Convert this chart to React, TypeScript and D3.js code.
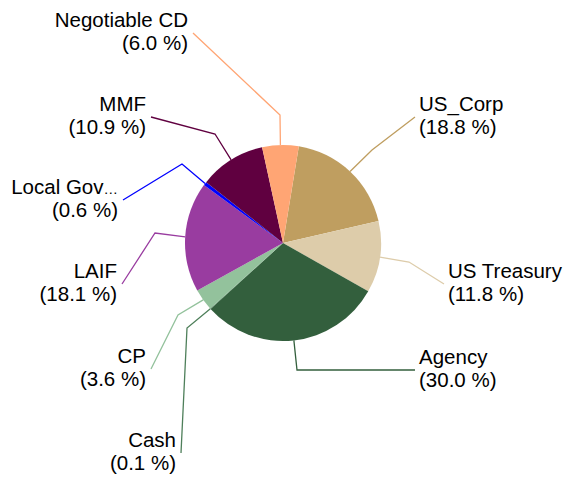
import React from "react";
import * as d3 from "d3";

const categories = ["US_Corp", "US Treasury", "Agency", "Cash", "CP", "LAIF", "Local Gov…", "MMF", "Negotiable CD"];
const values = [18.8, 11.8, 30.0, 0.1, 3.6, 18.1, 0.6, 10.9, 6.0];
const percentLabels = ["18.8 %", "11.8 %", "30.0 %", "0.1 %", "3.6 %", "18.1 %", "0.6 %", "10.9 %", "6.0 %"];
const colors = ["#BF9E60", "#DDCCAA", "#335F3D", "#4E7F5A", "#93C29C", "#993CA0", "#0000FF", "#600040", "#FFA574"];

// label layout: elbow and end point of each leader line, and side
const labelLayout = [
  { elbow: [372, 150], end: [415, 117], side: "right" },
  { elbow: [409, 262], end: [444, 284], side: "right" },
  { elbow: [297, 370], end: [415, 370], side: "right" },
  { elbow: [187, 328], end: [181, 453], side: "left" },
  { elbow: [178, 315], end: [151, 369], side: "left" },
  { elbow: [155, 233], end: [122, 284], side: "left" },
  { elbow: [182, 164], end: [123, 200], side: "left" },
  { elbow: [215, 134], end: [151, 117], side: "left" },
  { elbow: [280, 115], end: [193, 33], side: "left" },
];

const W = 569;
const H = 477;
const cx = 283;
const cy = 243;
const R = 98;
const startOffset = (9.3 * Math.PI) / 180;

function renderName(name: string) {
  if (name.endsWith("…")) {
    return (
      <>
        {name.slice(0, -1)}
        <tspan fontSize={14.5}>…</tspan>
      </>
    );
  }
  return name;
}

export default function App() {
  const pie = d3
    .pie<number>()
    .sort(null)
    .value((d) => d)
    .startAngle(startOffset)
    .endAngle(startOffset + 2 * Math.PI);
  const arcs = pie(values);
  const arc = d3.arc<d3.PieArcDatum<number>>().innerRadius(0).outerRadius(R);

  return (
    <svg
      width={W}
      height={H}
      style={{ position: "absolute", left: 0, top: 0, background: "#fff" }}
      fontFamily="'Liberation Sans', Arial, sans-serif"
    >
      <g transform={`translate(${cx},${cy})`}>
        {arcs.map((a, i) => (
          <path key={i} d={arc(a) || ""} fill={colors[i]} />
        ))}
      </g>
      {arcs.map((a, i) => {
        const mid = (a.startAngle + a.endAngle) / 2;
        const sx = cx + Math.sin(mid) * R;
        const sy = cy - Math.cos(mid) * R;
        const L = labelLayout[i];
        const pts = [[sx, sy], L.elbow, L.end] as [number, number][];
        const line = d3.line()(pts) || "";
        const left = L.side === "left";
        const tx = left ? L.end[0] - 5 : L.end[0] + 4;
        return (
          <g key={i}>
            <path d={line} fill="none" stroke={colors[i]} strokeWidth={1.3} />
            <text
              x={tx}
              y={L.end[1] - 6}
              fontSize={20.5}
              textAnchor={left ? "end" : "start"}
              fill="#000"
            >
              <tspan x={tx}>{renderName(categories[i])}</tspan>
              <tspan x={tx} dy={23}>
                ({percentLabels[i]})
              </tspan>
            </text>
          </g>
        );
      })}
    </svg>
  );
}
